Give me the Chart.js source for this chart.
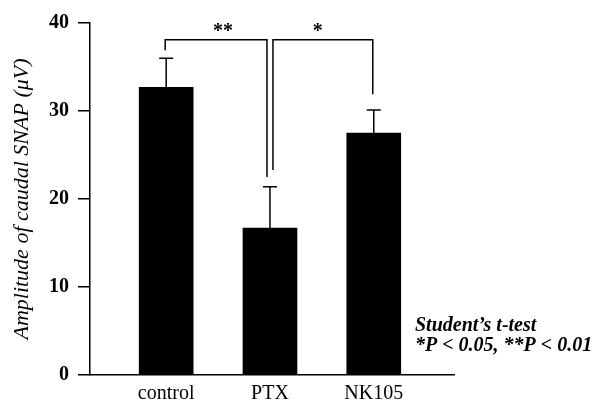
<!DOCTYPE html>
<html>
<head>
<meta charset="utf-8">
<script src="https://cdn.jsdelivr.net/npm/chart.js@4"></script>
<style>
  html, body { margin: 0; padding: 0; background: #fff; }
</style>
</head>
<body>
<canvas id="c" width="609" height="401"></canvas>
<script>
// ---- data ----
const categories = ['control', 'PTX', 'NK105'];
const means = [32.7, 16.7, 27.5];
const errors = [3.3, 4.7, 2.6];          // upper error bar (SEM)
const yTicks = [0, 10, 20, 30, 40];
const bracketLevel = [38.1, 38.1];
const bracketLegs = [[36.9, 22.5], [23.3, 31.9]]; // leg bottoms (left, right)
const bracketPairs = [[0, 1], [1, 2]];
const bracketLabels = ['**', '*'];
const noteLines = ["Student\u2019s t-test", "*P < 0.05, **P < 0.01"];

const positions = categories.map((_, i) => i + 1);
const barData = means.map((m, i) => ({ x: positions[i], y: m }));

const serif = '"Liberation Serif", "DejaVu Serif", serif';

const overlay = {
  id: 'overlay',
  afterDatasetsDraw(chart) {
    const ctx = chart.ctx;
    const xs = chart.scales.x, ys = chart.scales.y;
    ctx.save();
    ctx.strokeStyle = '#000';
    ctx.fillStyle = '#000';
    ctx.lineWidth = 1.5;
    // error bars (upper only)
    means.forEach((m, i) => {
      const x = xs.getPixelForValue(positions[i]);
      const y0 = ys.getPixelForValue(m);
      const y1 = ys.getPixelForValue(m + errors[i]);
      ctx.beginPath();
      ctx.moveTo(x, y0); ctx.lineTo(x, y1);
      ctx.moveTo(x - 7, y1); ctx.lineTo(x + 7, y1);
      ctx.stroke();
    });
    // significance brackets
    const legOff = [[-1, -3], [3, -1]];
    const labelShift = [7, -5];
    bracketPairs.forEach((p, k) => {
      const xa = xs.getPixelForValue(positions[p[0]]) + legOff[k][0];
      const xb = xs.getPixelForValue(positions[p[1]]) + legOff[k][1];
      const yt = ys.getPixelForValue(bracketLevel[k]);
      const ya = ys.getPixelForValue(bracketLegs[k][0]);
      const yb = ys.getPixelForValue(bracketLegs[k][1]);
      ctx.beginPath();
      ctx.moveTo(xa, ya); ctx.lineTo(xa, yt); ctx.lineTo(xb, yt); ctx.lineTo(xb, yb);
      ctx.stroke();
      ctx.font = 'bold 20px ' + serif;
      ctx.textAlign = 'center';
      ctx.textBaseline = 'middle';
      ctx.fillText(bracketLabels[k], (xa + xb) / 2 + labelShift[k], yt - 8);
    });
    // note text
    ctx.font = 'italic bold 20px ' + serif;
    ctx.textAlign = 'left';
    ctx.textBaseline = 'middle';
    ctx.fillText(noteLines[0], 415, 326);
    ctx.fillText(noteLines[1], 415, 346);
    ctx.restore();
  }
};

new Chart(document.getElementById('c'), {
  type: 'bar',
  data: {
    datasets: [{
      data: barData,
      backgroundColor: '#000',
      borderWidth: 0,
      barThickness: 54
    }]
  },
  options: {
    responsive: false,
    animation: false,
    events: [],
    layout: { padding: { top: 23, right: 155, left: 0, bottom: 0 } },
    plugins: { legend: { display: false }, tooltip: { enabled: false } },
    scales: {
      x: {
        type: 'linear',
        min: 0.266,
        max: 3.773,
        offset: false,
        afterBuildTicks(scale) { scale.ticks = positions.map(v => ({ value: v })); },
        afterFit(scale) { scale.height = 26; },
        ticks: {
          autoSkip: false,
          maxRotation: 0,
          padding: -1,
          color: '#000',
          font: { family: serif, size: 20 },
          callback: (v) => { const i = positions.indexOf(v); return i >= 0 ? categories[i] : ''; }
        },
        grid: { display: false, offset: false },
        border: { display: true, color: '#000', width: 1.5 }
      },
      y: {
        min: 0,
        max: 40,
        afterBuildTicks(scale) { scale.ticks = yTicks.map(v => ({ value: v })); },
        afterFit(scale) { scale.width = 90; },
        ticks: {
          padding: 9,
          color: '#000',
          font: { family: serif, size: 20, weight: 'bold' }
        },
        grid: { drawOnChartArea: false, tickLength: 12, color: '#000', lineWidth: 1.5 },
        border: { display: true, color: '#000', width: 1.5 },
        title: {
          display: true,
          text: 'Amplitude of caudal SNAP (\u03bcV)',
          color: '#000',
          font: { family: serif, size: 22, style: 'italic' },
          padding: { top: 9, bottom: 0 }
        }
      }
    }
  },
  plugins: [overlay]
});
</script>
</body>
</html>
